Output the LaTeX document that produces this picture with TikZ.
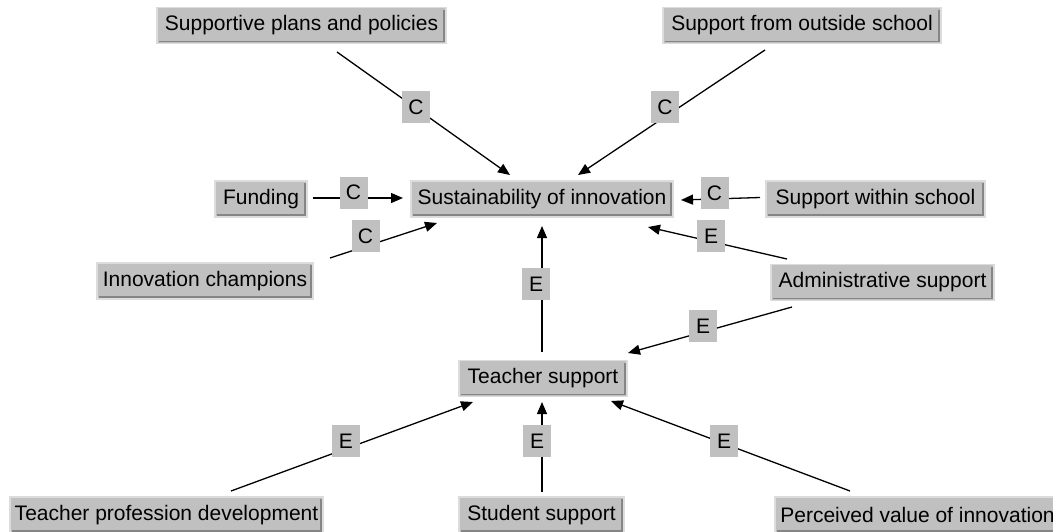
\documentclass[tikz,border=0pt]{standalone}
\usepackage{fontspec}
\setmainfont{Liberation Sans}
\usetikzlibrary{arrows.meta}
\definecolor{boxgray}{HTML}{C0C0C0}
\definecolor{boxlight}{HTML}{DCDCDC}
\definecolor{boxdark}{HTML}{858585}
\begin{document}
\begin{tikzpicture}[x=1pt,y=-1pt,
  concept/.style={fill=boxgray, draw=boxlight, line width=1.2pt, outer sep=0pt,
    inner sep=0pt, minimum height=36pt, font=\fontsize{21}{24}\selectfont,
    path picture={
      \draw[boxdark, line width=1.6pt]
        ([xshift=-2.2pt,yshift=-2pt]path picture bounding box.north east) --
        ([xshift=-2.2pt,yshift=2.2pt]path picture bounding box.south east) --
        ([xshift=2pt,yshift=2.2pt]path picture bounding box.south west);
    }},
  tag/.style={fill=boxgray, inner sep=0pt, outer sep=0pt, minimum width=28pt,
    minimum height=32pt, font=\fontsize{21}{24}\selectfont},
  link/.style={line width=1.3pt, -{Triangle[length=12pt,width=10pt]}}]

\useasboundingbox (0,0) rectangle (1053,531);
\clip (0,0) rectangle (1053,531);

% concepts
\node[concept, minimum width=289pt] (spp) at (301.5,25.5) {Supportive plans and policies};
\node[concept, minimum width=278pt] (sfo) at (802,25.5) {Support from outside school};
\node[concept, minimum width=92pt]  (fun) at (261,199) {Funding};
\node[concept, minimum width=262pt] (sus) at (542,199) {Sustainability of innovation};
\node[concept, minimum width=219pt] (sws) at (875.5,199) {Support within school};
\node[concept, minimum width=216pt] (ich) at (205,281) {Innovation champions};
\node[concept, minimum width=223pt] (adm) at (882.5,282.5) {Administrative support};
\node[concept, minimum width=168pt] (tsu) at (543,378.5) {Teacher support};
\node[concept, minimum width=313pt] (tpd) at (166.5,515) {Teacher profession development};
\node[concept, minimum width=165pt] (ssu) at (541.5,515) {Student support};
\node[concept, minimum width=285pt] (pvi) at (917.5,515) {Perceived value of innovation};

% connectors
\draw[link] ([shift={(35.5,26.5)}]spp.center) -- ([shift={(-32,-24)}]sus.center);
\draw[link] ([shift={(-37,24.5)}]sfo.center) -- ([shift={(36,-24)}]sus.center);
\draw[link] ([shift={(52,-1)}]fun.center) -- ([shift={(-139,-1)}]sus.center);
\draw[link] ([shift={(125,-23)}]ich.center) -- ([shift={(-105,24)}]sus.center);
\draw[link] ([shift={(-115.5,-1.5)}]sws.center) -- ([shift={(139,1)}]sus.center);
\draw[link] ([shift={(-95.5,-23.5)}]adm.center) -- ([shift={(106,28)}]sus.center);
\draw[link] ([shift={(-1,-26.5)}]tsu.center) -- ([shift={(0,27)}]sus.center);
\draw[link] ([shift={(-90.5,24.5)}]adm.center) -- ([shift={(85,-25.5)}]tsu.center);
\draw[link] ([shift={(64.5,-24)}]tpd.center) -- ([shift={(-70,23.5)}]tsu.center);
\draw[link] ([shift={(0.5,-23)}]ssu.center) -- ([shift={(-1,23.5)}]tsu.center);
\draw[link] ([shift={(-67.5,-24)}]pvi.center) -- ([shift={(68,22.5)}]tsu.center);

% link type tags
\node[tag] (t1) at (416,107) {C};
\node[tag] (t2) at (665,107) {C};
\node[tag] (t3) at (353.5,192.5) {C};
\node[tag] (t4) at (365.5,236) {C};
\node[tag] (t5) at (714.5,193) {C};
\node[tag] (t6) at (711,236) {E};
\node[tag] (t7) at (536,284) {E};
\node[tag] (t8) at (703,326) {E};
\node[tag] (t9) at (346,441) {E};
\node[tag] (t10) at (537,441) {E};
\node[tag] (t11) at (724,441) {E};
\end{tikzpicture}
\end{document}
